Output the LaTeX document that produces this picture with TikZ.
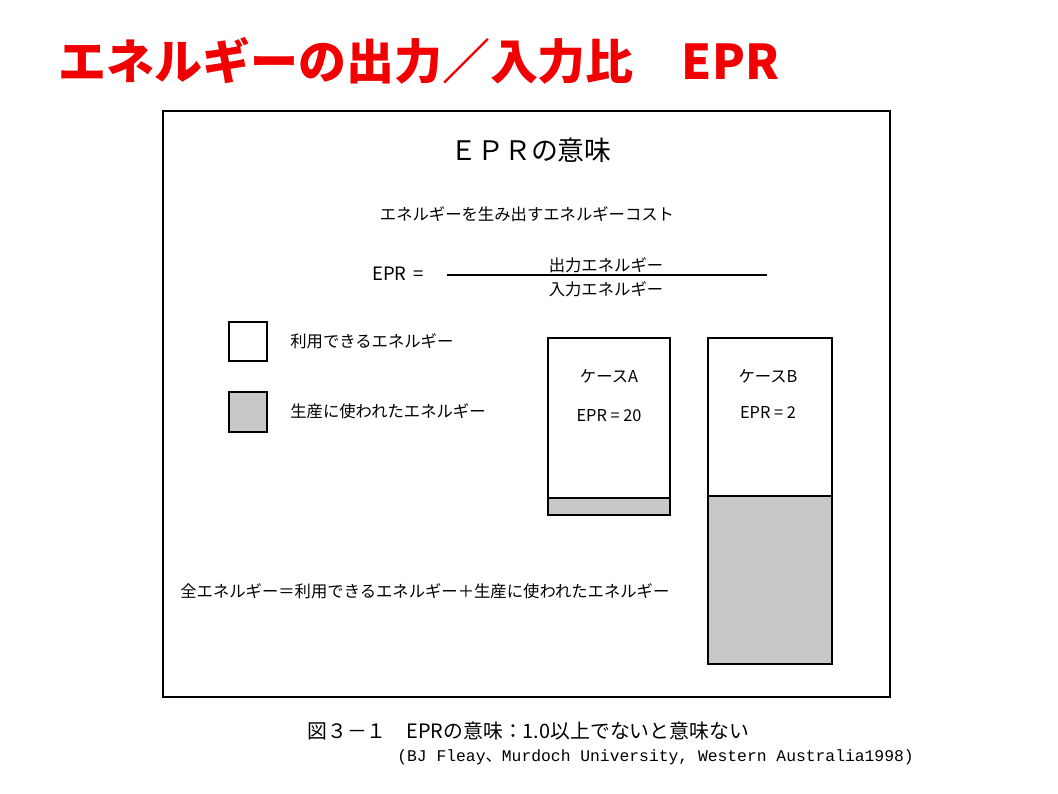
\documentclass[tikz,border=0pt]{standalone}
\usepackage{fontspec}
\setmainfont{Noto Sans CJK JP}
\newfontfamily\monofont{Liberation Mono}
\definecolor{titlered}{RGB}{240,0,0}
\definecolor{usedgray}{RGB}{200,200,200}
\tikzset{
  txt/.style={inner sep=0pt, font=\fontsize{9.3pt}{11pt}\selectfont},
  boxline/.style={draw=black, line width=0.8pt},
}
\begin{document}
\begin{tikzpicture}[x=0.02cm, y=-0.02cm]
\useasboundingbox[fill=white] (0,0) rectangle (1058,794);
% title
\node[anchor=west, inner sep=0pt, text=titlered, font=\fontsize{27.3pt}{30pt}\selectfont\bfseries] (title) at (58,61) {エネルギーの出力／入力比　EPR};
% frame
\draw[line width=1.4pt] (163,111) rectangle (890,697);
\node[inner sep=0pt, font=\fontsize{15.3pt}{17pt}\selectfont] (head) at (531,150) {ＥＰＲの意味};
\node[txt] (cost) at (527,214) {エネルギーを生み出すエネルギーコスト};
% formula
\node[txt, anchor=west, font=\fontsize{10.5pt}{12pt}\selectfont] (epr) at (372,274) {EPR \,=};
\draw[line width=0.6pt] (447,275) -- (767,275);
\node[txt] (out) at (606,265) {出力エネルギー};
\node[txt] (in) at (606,289) {入力エネルギー};
% legend
\draw[boxline, fill=white] (229,322) rectangle (267,361);
\node[txt, anchor=west] (leg1) at (290,341) {利用できるエネルギー};
\draw[boxline, fill=usedgray] (229,392) rectangle (267,432);
\node[txt, anchor=west] (leg2) at (290,411) {生産に使われたエネルギー};
% case A
\draw[boxline, fill=usedgray] (548,498) rectangle (670,515);
\draw[boxline, fill=white] (548,338) rectangle (670,498);
\draw[line width=1.3pt] (548,498) -- (670,498);
\node[txt] (caseA) at (609,376) {ケースA};
\node[txt] (eprA) at (609,416) {EPR = 20};
% case B
\draw[boxline, fill=usedgray] (708,496) rectangle (832,664);
\draw[boxline, fill=white] (708,338) rectangle (832,496);
\node[txt] (caseB) at (768,376) {ケースB};
\node[txt] (eprB) at (768,413) {EPR = 2};
% total
\node[txt, anchor=west] (total) at (180,591) {全エネルギー＝利用できるエネルギー＋生産に使われたエネルギー};
% caption
\node[anchor=west, inner sep=0pt, font=\fontsize{11.3pt}{13pt}\selectfont] (cap1) at (307,731) {図３－１　EPRの意味：1.0以上でないと意味ない};
\node[anchor=west, inner sep=0pt, font=\fontsize{9.3pt}{11pt}\selectfont] (cap2) at (397,757) {\monofont (BJ Fleay{\rmfamily 、}Murdoch University, Western Australia1998)};
\end{tikzpicture}
\end{document}
